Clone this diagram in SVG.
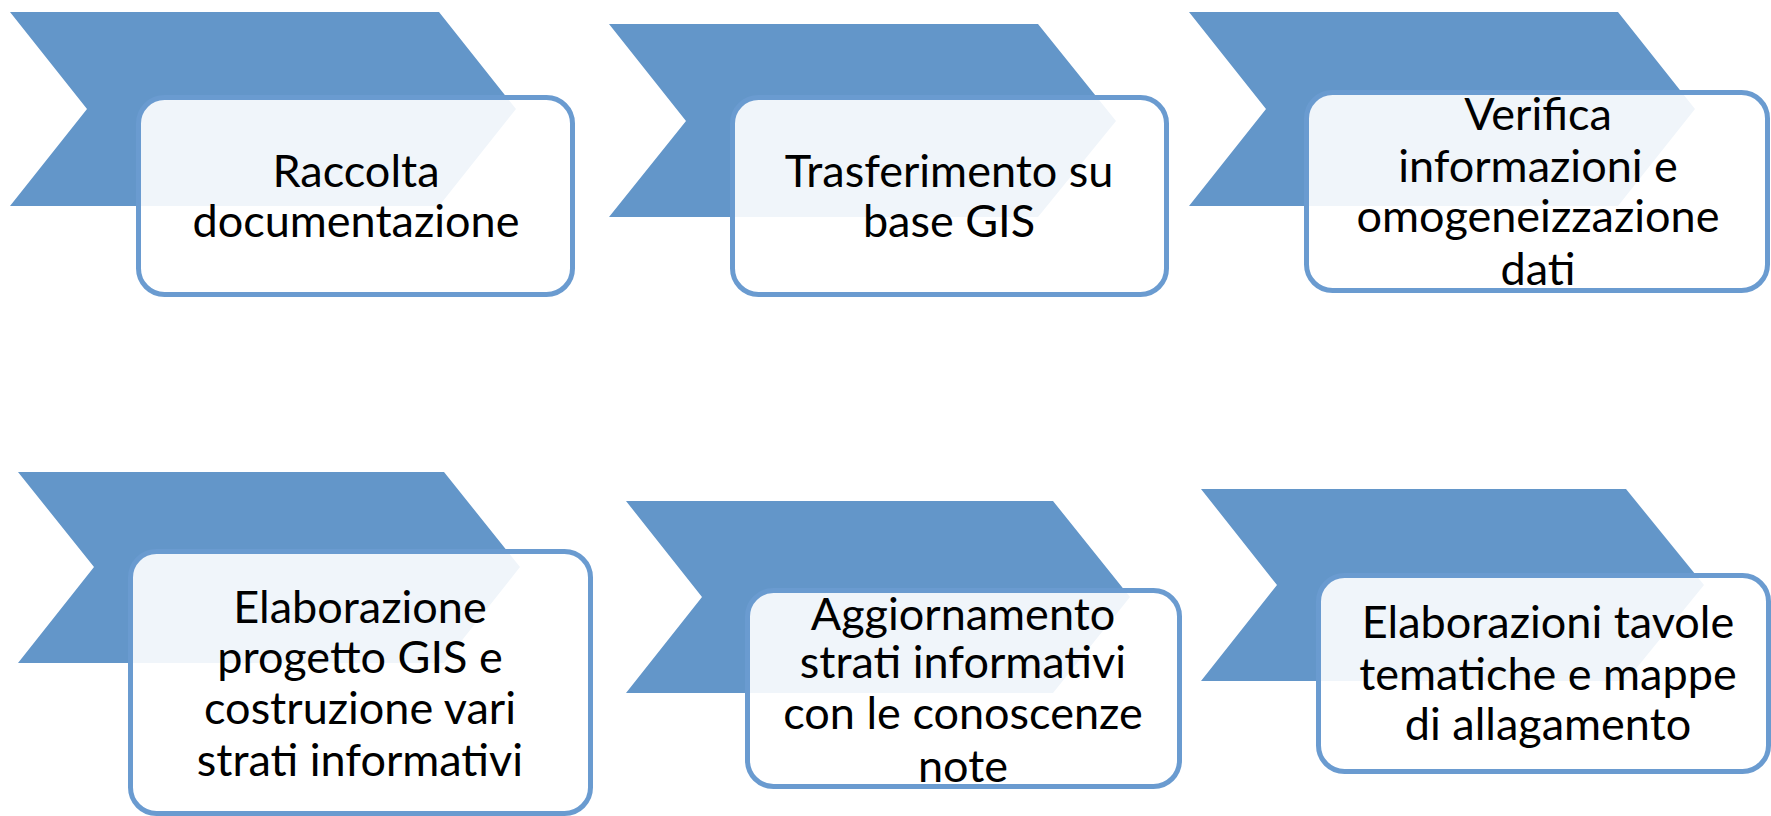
<svg xmlns="http://www.w3.org/2000/svg" width="1771" height="816" viewBox="0 0 1771 816">
<style>
.chev{fill:#6396C9;}
.box{fill:#FFFFFF;fill-opacity:0.9;stroke:#6A9BD0;stroke-width:5;}
.lbl{font-family:Lato,"Open Sans",sans-serif;font-size:45px;fill:#000000;text-anchor:middle;}
</style>
<rect width="1771" height="816" fill="#FFFFFF"/>
<g id="connectors"></g>
<g id="step1">
<polygon class="chev" points="10,12 439,12 516,109 439,206 10,206 87,109"/>
<rect class="box" x="138.5" y="97.5" width="434" height="197" rx="26"/>
<text class="lbl" x="356" y="187">Raccolta</text>
<text class="lbl" x="356" y="237">documentazione</text>
</g>
<g id="step2">
<polygon class="chev" points="609,24 1038,24 1116,121 1038,217 609,217 686,121"/>
<rect class="box" x="732.5" y="97.5" width="434" height="197" rx="26"/>
<text class="lbl" x="949" y="187">Trasferimento su</text>
<text class="lbl" x="949" y="237">base GIS</text>
</g>
<g id="step3">
<polygon class="chev" points="1189,12 1618,12 1695,109 1618,206 1189,206 1266,109"/>
<rect class="box" x="1306.5" y="92.5" width="461" height="198" rx="26"/>
<text class="lbl" x="1538" y="130">Verifica</text>
<text class="lbl" x="1538" y="182">informazioni e</text>
<text class="lbl" x="1538" y="232">omogeneizzazione</text>
<text class="lbl" x="1538" y="285">dati</text>
</g>
<g id="step4">
<polygon class="chev" points="18,472 444,472 520,567 444,663 18,663 94,567"/>
<rect class="box" x="130.5" y="551.5" width="460" height="262" rx="26"/>
<text class="lbl" x="360" y="623">Elaborazione</text>
<text class="lbl" x="360" y="673">progetto GIS e</text>
<text class="lbl" x="360" y="724">costruzione vari</text>
<text class="lbl" x="360" y="776">strati informativi</text>
</g>
<g id="step5">
<polygon class="chev" points="626,501 1053,501 1130,597 1053,693 626,693 702,597"/>
<rect class="box" x="747.5" y="590.5" width="432" height="196" rx="26"/>
<text class="lbl" x="963" y="630">Aggiornamento</text>
<text class="lbl" x="963" y="678">strati informativi</text>
<text class="lbl" x="963" y="729">con le conoscenze</text>
<text class="lbl" x="963" y="782">note</text>
</g>
<g id="step6">
<polygon class="chev" points="1201,489 1626,489 1704,585 1626,681 1201,681 1277,585"/>
<rect class="box" x="1318.5" y="575.5" width="450" height="196" rx="26"/>
<text class="lbl" x="1548" y="638">Elaborazioni tavole</text>
<text class="lbl" x="1548" y="690">tematiche e mappe</text>
<text class="lbl" x="1548" y="740">di allagamento</text>
</g>
</svg>
